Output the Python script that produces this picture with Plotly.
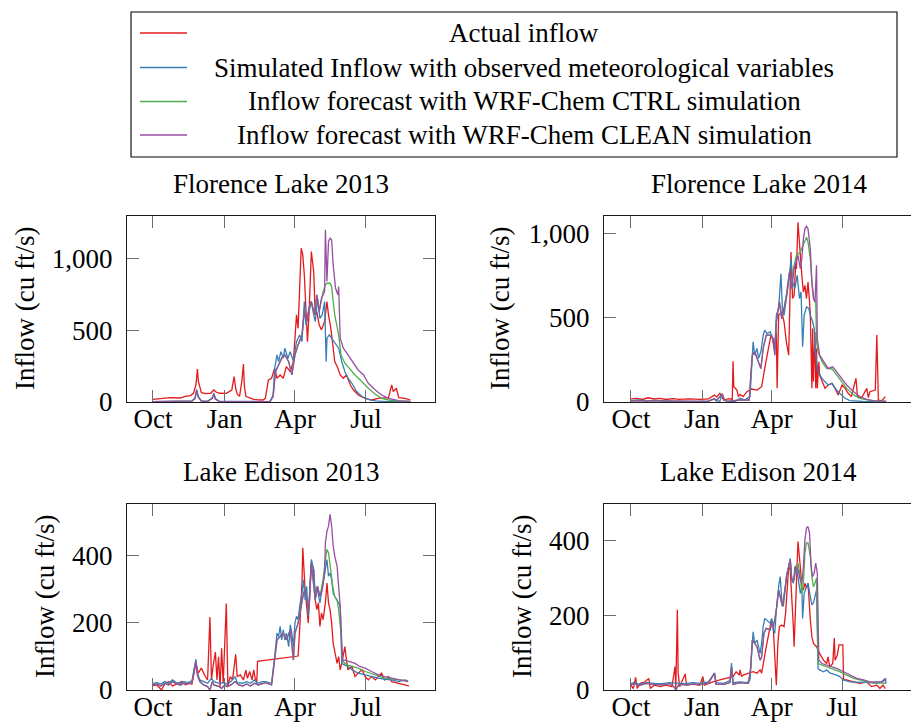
import plotly.graph_objects as go

W, H = 911, 723
FONT = "Liberation Serif"
FS = 27

# ---------------- tick labels ----------------
month_days = [0, 92, 182, 273]
month_labels = ["Oct", "Jan", "Apr", "Jul"]
florence_ticks = [0, 500, 1000]
florence_ticklabels = ["0", "500", "1,000"]
edison_ticks = [0, 200, 400]
edison_ticklabels = ["0", "200", "400"]

series_names = [
    "Actual inflow",
    "Simulated Inflow with observed meteorological variables",
    "Inflow forecast with WRF-Chem CTRL simulation",
    "Inflow forecast with WRF-Chem CLEAN simulation",
]
panel_titles = ["Florence Lake 2013", "Florence Lake 2014", "Lake Edison 2013", "Lake Edison 2014"]

# ---------------- data (day offset from Oct 1, inflow cu ft/s) ----------------
# Florence Lake 2013
fl13_act_day = [0, 10, 22, 35, 41, 48, 52, 55, 57, 58, 60, 62, 68, 74, 78, 81, 85, 94, 101, 104, 106, 108, 111, 114, 116, 117, 119, 124, 129, 135, 141, 144, 146, 148, 152, 156, 159, 163, 167, 171, 176, 180, 184, 186, 190, 192, 194, 196, 198, 200, 203, 206, 208, 210, 213, 216, 220, 223, 225, 228, 230, 233, 237, 240, 244, 248, 253, 257, 263, 272, 280, 289, 302, 306, 308, 312, 315, 323, 330]
fl13_act_val = [19, 22, 30, 28, 40, 45, 61, 120, 230, 150, 107, 65, 58, 61, 84, 70, 61, 60, 84, 177, 96, 55, 40, 150, 265, 120, 40, 30, 19, 15, 14, 26, 100, 154, 166, 236, 166, 189, 166, 247, 212, 282, 609, 515, 1075, 1028, 888, 609, 422, 609, 1052, 912, 609, 632, 539, 504, 562, 702, 609, 515, 422, 282, 236, 189, 166, 189, 119, 84, 49, 26, 14, 26, 30, 119, 73, 96, 30, 26, 14]

fl13_sim_day = [0, 20, 40, 50, 54, 56, 58, 62, 70, 76, 78, 80, 85, 100, 110, 120, 130, 140, 150, 154, 156, 159, 161, 164, 167, 169, 173, 176, 180, 184, 188, 191, 194, 196, 199, 203, 206, 208, 211, 214, 217, 220, 222, 223, 226, 229, 233, 238, 242, 246, 250, 255, 261, 268, 276, 285, 300, 330]
fl13_sim_val = [3, 5, 4, 8, 30, 89, 40, 8, 5, 30, 61, 25, 5, 6, 3, 5, 4, 3, 5, 49, 236, 329, 282, 352, 306, 376, 306, 352, 282, 422, 469, 422, 702, 539, 609, 702, 609, 562, 725, 585, 609, 702, 282, 446, 469, 446, 422, 376, 282, 212, 166, 131, 73, 38, 19, 8, 3, 2]

fl13_ctrl_day = [0, 20, 40, 50, 54, 56, 58, 62, 70, 76, 78, 80, 85, 100, 110, 120, 130, 140, 150, 154, 157, 161, 165, 169, 174, 178, 182, 186, 191, 194, 197, 200, 203, 207, 210, 213, 216, 218, 221, 223, 227, 229, 231, 233, 238, 241, 246, 253, 259, 268, 276, 285, 293, 302, 315, 330]
fl13_ctrl_val = [2, 3, 3, 6, 25, 80, 35, 6, 4, 25, 55, 20, 4, 4, 2, 4, 3, 2, 3, 38, 212, 259, 306, 329, 282, 189, 329, 399, 469, 632, 562, 655, 702, 609, 749, 632, 725, 770, 819, 830, 830, 807, 702, 609, 469, 329, 271, 224, 189, 142, 96, 54, 26, 14, 6, 4]

fl13_clean_day = [0, 20, 40, 50, 54, 56, 58, 62, 70, 76, 78, 80, 85, 100, 110, 120, 130, 140, 150, 154, 157, 161, 165, 169, 174, 178, 182, 186, 191, 194, 197, 200, 203, 207, 210, 213, 216, 220, 221, 223, 225, 227, 229, 231, 234, 237, 238, 240, 244, 250, 257, 263, 270, 276, 285, 293, 302, 315, 330]
fl13_clean_val = [2, 3, 3, 6, 25, 80, 35, 6, 4, 25, 55, 20, 4, 4, 2, 4, 3, 2, 3, 38, 212, 259, 306, 329, 282, 189, 329, 399, 469, 632, 562, 655, 702, 609, 749, 632, 725, 772, 1203, 842, 1122, 1145, 1133, 958, 795, 749, 807, 446, 376, 329, 271, 224, 189, 131, 84, 49, 26, 10, 5]

# Florence Lake 2014
fl14_act_day = [0, 8, 15, 22, 30, 38, 45, 55, 62, 75, 90, 100, 108, 111, 115, 120, 126, 131, 132, 133, 137, 139, 141, 145, 150, 156, 163, 169, 173, 178, 181, 183, 185, 188, 189, 191, 195, 198, 201, 204, 207, 209, 211, 213, 214, 216, 219, 221, 223, 225, 227, 229, 231, 232, 234, 235, 236, 238, 239, 240, 241, 243, 244, 247, 251, 255, 260, 264, 268, 273, 277, 281, 285, 291, 293, 298, 305, 307, 309, 316, 318, 320, 324, 329]
fl14_act_val = [18, 22, 15, 25, 18, 22, 15, 20, 15, 18, 15, 18, 41, 30, 51, 10, 20, 15, 242, 91, 71, 32, 45, 32, 61, 77, 71, 91, 199, 328, 397, 377, 318, 416, 81, 515, 535, 476, 357, 278, 890, 614, 633, 811, 791, 1067, 850, 752, 653, 692, 614, 712, 594, 515, 81, 436, 121, 416, 81, 318, 81, 239, 160, 121, 81, 101, 111, 81, 42, 101, 81, 52, 32, 140, 32, 22, 81, 26, 61, 71, 397, 12, 6, 32]

fl14_sim_day = [0, 10, 20, 30, 40, 50, 60, 80, 100, 108, 110, 115, 118, 121, 125, 135, 141, 147, 154, 156, 158, 160, 163, 165, 168, 171, 173, 176, 180, 182, 184, 186, 188, 191, 194, 196, 198, 201, 204, 207, 209, 212, 215, 218, 220, 222, 224, 227, 230, 232, 235, 237, 238, 240, 242, 247, 251, 255, 260, 264, 268, 273, 277, 283, 300, 330]
fl14_sim_val = [8, 12, 6, 10, 8, 5, 4, 3, 5, 20, 8, 5, 51, 10, 4, 3, 22, 12, 32, 199, 357, 278, 318, 259, 298, 397, 426, 406, 416, 397, 357, 318, 515, 555, 761, 535, 515, 614, 712, 850, 712, 673, 752, 614, 653, 328, 515, 564, 555, 515, 476, 436, 318, 239, 180, 140, 121, 101, 111, 81, 61, 42, 22, 8, 3, 2]

fl14_ctrl_day = [0, 10, 20, 30, 40, 60, 80, 100, 108, 110, 118, 121, 125, 141, 153, 155, 157, 160, 165, 168, 171, 175, 180, 184, 186, 188, 192, 195, 198, 201, 205, 208, 210, 214, 219, 223, 225, 227, 229, 232, 234, 236, 238, 239, 240, 242, 247, 253, 260, 266, 273, 279, 288, 296, 305, 318, 330]
fl14_ctrl_val = [5, 8, 5, 8, 6, 4, 3, 5, 18, 8, 45, 10, 4, 12, 12, 160, 278, 298, 239, 199, 318, 397, 397, 377, 278, 476, 594, 495, 555, 633, 771, 673, 791, 870, 890, 930, 959, 978, 949, 850, 712, 633, 594, 594, 357, 298, 239, 199, 196, 160, 121, 81, 42, 22, 12, 5, 3]

fl14_clean_day = [0, 10, 20, 30, 40, 60, 80, 100, 108, 110, 118, 121, 125, 141, 153, 155, 157, 160, 165, 168, 171, 175, 180, 184, 186, 188, 192, 195, 198, 201, 205, 208, 211, 214, 216, 219, 221, 223, 225, 227, 229, 232, 234, 236, 238, 240, 241, 244, 249, 255, 261, 266, 273, 279, 288, 296, 305, 313, 330]
fl14_clean_val = [5, 8, 5, 8, 6, 4, 3, 5, 18, 8, 45, 10, 4, 12, 12, 160, 278, 298, 239, 199, 318, 397, 397, 377, 278, 476, 594, 495, 555, 633, 771, 673, 791, 831, 870, 791, 850, 968, 1028, 1043, 1028, 909, 712, 614, 594, 811, 377, 278, 239, 199, 209, 180, 140, 101, 61, 32, 16, 8, 5]

# Lake Edison 2013
le13_act_day = [0, 5, 11, 15, 20, 25, 28, 33, 37, 42, 45, 50, 55, 58, 62, 67, 70, 73, 75, 77, 80, 82, 84, 86, 88, 90, 94, 96, 99, 102, 106, 108, 112, 116, 119, 121, 124, 127, 129, 131, 133, 134, 186, 188, 191, 192, 193, 195, 197, 199, 201, 203, 206, 208, 210, 212, 214, 216, 218, 221, 223, 225, 227, 229, 231, 233, 236, 238, 240, 242, 244, 246, 248, 250, 255, 259, 263, 268, 272, 276, 280, 285, 289, 293, 297, 302, 306, 315, 323, 328]
le13_act_val = [13, 15, 0, 18, 25, 12, 15, 20, 25, 15, 20, 18, 80, 50, 65, 40, 30, 217, 30, 70, 113, 30, 99, 10, 124, 20, 257, 10, 40, 30, 106, 40, 45, 30, 59, 35, 55, 30, 60, 35, 21, 85, 101, 179, 318, 423, 368, 298, 249, 199, 288, 378, 358, 268, 239, 259, 189, 229, 209, 259, 318, 259, 239, 199, 139, 110, 79, 99, 60, 79, 110, 129, 89, 60, 70, 40, 50, 60, 40, 30, 40, 30, 40, 50, 30, 40, 25, 20, 15, 12]

le13_sim_day = [0, 5, 10, 15, 20, 25, 30, 35, 40, 45, 50, 53, 55, 57, 60, 65, 70, 75, 78, 85, 90, 95, 100, 105, 108, 115, 120, 125, 130, 134, 140, 144, 152, 156, 159, 161, 163, 165, 167, 169, 171, 174, 176, 178, 180, 182, 184, 186, 188, 191, 193, 195, 197, 199, 201, 203, 206, 208, 210, 212, 214, 216, 218, 221, 223, 225, 227, 229, 231, 233, 236, 238, 240, 242, 246, 250, 255, 259, 263, 272, 280, 289, 297, 306, 315, 323, 327]
le13_sim_val = [20, 22, 18, 25, 20, 30, 22, 20, 25, 22, 28, 60, 91, 50, 30, 25, 20, 35, 25, 20, 22, 18, 25, 40, 22, 20, 25, 20, 30, 20, 25, 25, 20, 99, 169, 159, 189, 149, 179, 149, 169, 129, 194, 169, 129, 199, 219, 209, 249, 288, 328, 268, 308, 219, 318, 388, 358, 278, 308, 278, 259, 288, 318, 368, 388, 338, 348, 328, 288, 278, 268, 259, 249, 79, 74, 70, 60, 55, 50, 45, 40, 35, 32, 30, 25, 30, 25]

le13_ctrl_day = [0, 5, 10, 15, 20, 25, 30, 35, 40, 45, 50, 53, 55, 57, 60, 65, 70, 73, 76, 78, 85, 88, 92, 95, 100, 105, 110, 115, 120, 125, 130, 135, 140, 144, 152, 156, 159, 163, 167, 171, 176, 180, 182, 186, 191, 193, 195, 197, 200, 203, 208, 211, 214, 218, 221, 223, 225, 227, 229, 231, 233, 236, 238, 241, 243, 246, 250, 255, 263, 272, 285, 297, 315, 327]
le13_ctrl_val = [15, 18, 12, 20, 15, 25, 18, 15, 20, 18, 22, 55, 85, 45, 25, 15, 10, 0, 25, 15, 10, 5, 15, 10, 15, 25, 15, 12, 18, 12, 20, 15, 18, 22, 15, 89, 149, 159, 169, 149, 179, 89, 169, 199, 268, 288, 298, 268, 239, 378, 268, 308, 278, 328, 388, 418, 408, 368, 338, 298, 278, 268, 239, 169, 89, 79, 74, 70, 65, 55, 45, 35, 30, 28]

le13_clean_day = [0, 5, 10, 15, 20, 25, 30, 35, 40, 45, 50, 53, 55, 57, 60, 65, 70, 73, 76, 78, 85, 88, 92, 95, 100, 105, 110, 115, 120, 125, 130, 135, 140, 144, 152, 156, 159, 163, 167, 171, 176, 180, 182, 186, 191, 193, 195, 197, 200, 203, 208, 211, 214, 217, 220, 221, 223, 225, 227, 229, 231, 233, 236, 238, 240, 242, 243, 246, 253, 259, 265, 272, 280, 289, 297, 306, 315, 327]
le13_clean_val = [15, 18, 12, 20, 15, 25, 18, 15, 20, 18, 22, 55, 85, 45, 25, 15, 10, 0, 25, 15, 10, 5, 15, 10, 15, 25, 15, 12, 18, 12, 20, 15, 18, 22, 15, 89, 149, 159, 169, 149, 179, 89, 169, 199, 268, 288, 298, 268, 239, 378, 268, 308, 278, 298, 348, 438, 472, 487, 522, 487, 428, 398, 368, 318, 249, 139, 89, 89, 84, 79, 70, 65, 55, 45, 40, 35, 30, 25]

# Lake Edison 2014
le14_act_day = [0, 3, 6, 8, 12, 18, 23, 25, 30, 38, 45, 53, 57, 58, 60, 61, 63, 70, 72, 80, 89, 93, 95, 106, 115, 123, 132, 136, 140, 141, 143, 145, 150, 154, 158, 163, 167, 169, 171, 175, 180, 182, 184, 186, 188, 190, 192, 195, 198, 200, 201, 204, 206, 208, 210, 211, 213, 214, 216, 219, 221, 223, 225, 227, 229, 232, 234, 236, 240, 244, 249, 253, 255, 257, 261, 263, 264, 267, 269, 272, 274, 275, 279, 288, 296, 305, 311, 318, 322, 326, 329]
le14_act_val = [13, 4, 34, 4, 18, 22, 31, 4, 13, 9, 13, 9, 63, 4, 215, 45, 9, 43, 13, 16, 13, 36, 13, 22, 27, 31, 36, 49, 40, 54, 36, 40, 43, 45, 49, 45, 54, 45, 71, 116, 170, 188, 170, 98, 13, 125, 170, 174, 170, 206, 233, 331, 322, 259, 170, 116, 242, 286, 398, 331, 277, 268, 286, 273, 286, 188, 143, 125, 116, 98, 80, 71, 89, 62, 71, 139, 80, 94, 121, 121, 121, 27, 27, 22, 18, 22, 9, 13, 4, 13, 4]

le14_sim_day = [0, 5, 10, 15, 20, 30, 40, 50, 60, 70, 80, 90, 100, 108, 110, 120, 128, 130, 132, 141, 150, 154, 156, 158, 160, 163, 165, 167, 169, 171, 173, 175, 180, 182, 184, 186, 188, 191, 193, 195, 197, 199, 201, 204, 206, 208, 210, 212, 214, 216, 219, 221, 222, 224, 227, 229, 232, 234, 236, 238, 240, 242, 244, 249, 253, 257, 262, 266, 270, 275, 283, 292, 301, 309, 318, 324, 329, 330]
le14_sim_val = [18, 20, 15, 18, 20, 18, 17, 20, 18, 17, 20, 18, 22, 45, 20, 18, 25, 72, 20, 22, 20, 27, 98, 156, 125, 134, 116, 98, 125, 170, 192, 188, 179, 192, 161, 152, 215, 277, 304, 242, 224, 259, 304, 331, 353, 295, 286, 331, 322, 304, 259, 277, 192, 259, 277, 286, 250, 228, 233, 250, 268, 58, 54, 49, 54, 46, 43, 40, 36, 27, 22, 22, 22, 20, 18, 22, 31, 18]

le14_ctrl_day = [0, 5, 10, 15, 20, 30, 40, 50, 55, 58, 62, 70, 80, 90, 100, 108, 110, 120, 128, 130, 132, 141, 152, 155, 157, 160, 163, 167, 169, 172, 175, 180, 182, 184, 186, 188, 191, 193, 196, 199, 202, 206, 208, 211, 213, 216, 219, 221, 223, 225, 227, 229, 232, 234, 236, 238, 240, 242, 247, 251, 255, 262, 270, 279, 288, 296, 305, 313, 322, 330]
le14_ctrl_val = [15, 17, 12, 16, 18, 15, 14, 17, 10, 0, 15, 14, 16, 15, 18, 45, 15, 15, 20, 60, 15, 20, 18, 62, 134, 125, 116, 80, 89, 152, 165, 161, 179, 170, 188, 215, 268, 250, 224, 268, 313, 349, 295, 295, 331, 340, 304, 259, 286, 367, 394, 394, 358, 304, 277, 286, 300, 71, 67, 64, 62, 55, 49, 40, 31, 27, 22, 20, 20, 18]

le14_clean_day = [0, 5, 10, 15, 20, 30, 40, 50, 55, 58, 62, 70, 80, 90, 100, 108, 110, 120, 128, 130, 132, 141, 152, 155, 157, 160, 163, 167, 169, 172, 175, 180, 182, 184, 186, 188, 191, 193, 196, 199, 202, 206, 208, 211, 213, 216, 219, 221, 223, 225, 227, 229, 231, 233, 235, 237, 239, 241, 243, 247, 253, 260, 266, 275, 283, 292, 301, 309, 318, 326, 330]
le14_clean_val = [15, 17, 12, 16, 18, 15, 14, 17, 10, 0, 15, 14, 16, 15, 18, 45, 15, 15, 20, 60, 15, 20, 18, 62, 134, 125, 116, 80, 89, 152, 165, 161, 179, 170, 188, 215, 268, 250, 224, 268, 313, 349, 295, 295, 331, 322, 295, 286, 331, 403, 434, 438, 420, 331, 304, 313, 340, 313, 80, 71, 67, 62, 58, 49, 40, 31, 27, 22, 22, 22, 31]

COLORS = ["#e41a1c", "#377eb8", "#4daf4a", "#984ea3"]

panels = [
    [(fl13_act_day, fl13_act_val), (fl13_sim_day, fl13_sim_val), (fl13_ctrl_day, fl13_ctrl_val), (fl13_clean_day, fl13_clean_val)],
    [(fl14_act_day, fl14_act_val), (fl14_sim_day, fl14_sim_val), (fl14_ctrl_day, fl14_ctrl_val), (fl14_clean_day, fl14_clean_val)],
    [(le13_act_day, le13_act_val), (le13_sim_day, le13_sim_val), (le13_ctrl_day, le13_ctrl_val), (le13_clean_day, le13_clean_val)],
    [(le14_act_day, le14_act_val), (le14_sim_day, le14_sim_val), (le14_ctrl_day, le14_ctrl_val), (le14_clean_day, le14_clean_val)],
]

# ---------------- layout geometry (pixels) ----------------
def fx(px):
    return px / W

def fy(py):
    return 1 - py / H

# plot boxes: left, right, top, bottom (pixels); right-hand panels run past the page edge
boxes = [
    (127, 435, 216, 402),
    (604, 911, 216, 402),
    (127, 435, 504, 690),
    (604, 911, 504, 690),
]
x_ranges = [[-33.3, 361.5], [-34.9, 362.2], [-33.3, 361.5], [-34.9, 362.2]]
y_ranges = [[0, 1300], [0, 1104], [0, 553], [0, 498.5]]
y_ticks = [(florence_ticks, florence_ticklabels), (florence_ticks, florence_ticklabels),
           (edison_ticks, edison_ticklabels), (edison_ticks, edison_ticklabels)]

fig = go.Figure()
for p, series in enumerate(panels):
    sfx = "" if p == 0 else str(p + 1)
    for s, (d, v) in enumerate(series):
        fig.add_trace(go.Scatter(
            x=d, y=v, mode="lines", name=series_names[s],
            line=dict(color=COLORS[s], width=1.3),
            xaxis="x" + sfx, yaxis="y" + sfx, showlegend=False,
            hoverinfo="skip",
        ))

tickfont = dict(family=FONT, size=FS, color="black")
layout = dict(
    width=W, height=H, margin=dict(l=0, r=0, t=0, b=0, autoexpand=False),
    paper_bgcolor="white", plot_bgcolor="white",
    font=dict(family=FONT, size=FS, color="black"),
    shapes=[], annotations=[],
)
common = dict(showline=True, linecolor="#1a1a1a", linewidth=1.1, mirror="allticks",
              ticks="inside", ticklen=12, tickcolor="#6e6e6e", tickwidth=1.1,
              showgrid=False, zeroline=False, tickfont=tickfont, fixedrange=True,
              automargin=False)
for p in range(4):
    sfx = "" if p == 0 else str(p + 1)
    l, r, t, b = boxes[p]
    layout["xaxis" + sfx] = dict(
        common, domain=[fx(l), fx(r)], range=x_ranges[p], anchor="y" + sfx,
        tickmode="array", tickvals=month_days, ticktext=month_labels,
        ticklabelstandoff=-7,
    )
    yax = dict(
        common, domain=[fy(b), fy(t)], range=y_ranges[p], anchor="x" + sfx,
        tickmode="array", tickvals=y_ticks[p][0], ticktext=y_ticks[p][1],
        ticklabelstandoff=8,
    )
    if p % 2 == 1:
        # right spine lies beyond the page edge: keep only its inward ticks
        yax["mirror"] = False
        layout["yaxis" + str(p + 5)] = dict(
            domain=[fy(b), fy(t)], range=y_ranges[p], anchor="x" + sfx,
            overlaying="y" + sfx, side="right", showline=False,
            ticks="inside", ticklen=12, tickcolor="#6e6e6e", tickwidth=1.1,
            tickmode="array", tickvals=y_ticks[p][0], showticklabels=False,
            showgrid=False, zeroline=False, fixedrange=True, automargin=False,
        )
    layout["yaxis" + sfx] = yax
    # panel title
    layout["annotations"].append(dict(
        text=panel_titles[p], x=fx((l + (r if p % 2 == 0 else 913)) / 2),
        y=fy(t - 32), xref="paper", yref="paper", showarrow=False,
        xanchor="center", yanchor="middle", font=dict(family=FONT, size=FS, color="black"),
    ))

# y axis titles
for (cx, cy) in [(25, 309), (500, 309), (45, 597), (522, 597)]:
    layout["annotations"].append(dict(
        text="Inflow (cu ft/s)", x=fx(cx), y=fy(cy), xref="paper", yref="paper",
        showarrow=False, textangle=-90, xanchor="center", yanchor="middle",
        font=dict(family=FONT, size=FS, color="black"),
    ))

# legend box (drawn manually so the text is centred like the original)
layout["shapes"].append(dict(type="rect", xref="paper", yref="paper",
                             x0=fx(131), x1=fx(897), y0=fy(157), y1=fy(12),
                             line=dict(color="black", width=1.1), fillcolor="rgba(0,0,0,0)"))
row_y = [33, 67.5, 101.5, 135]
for s in range(4):
    layout["shapes"].append(dict(type="line", xref="paper", yref="paper",
                                 x0=fx(140), x1=fx(187), y0=fy(row_y[s]), y1=fy(row_y[s]),
                                 line=dict(color=COLORS[s], width=1.5)))
    layout["annotations"].append(dict(
        text=series_names[s], x=fx(524), y=fy(row_y[s]), xref="paper", yref="paper",
        showarrow=False, xanchor="center", yanchor="middle",
        font=dict(family=FONT, size=FS, color="black"),
    ))

fig.update_layout(**layout)
fig.write_html("out.html", config={"displayModeBar": False})
